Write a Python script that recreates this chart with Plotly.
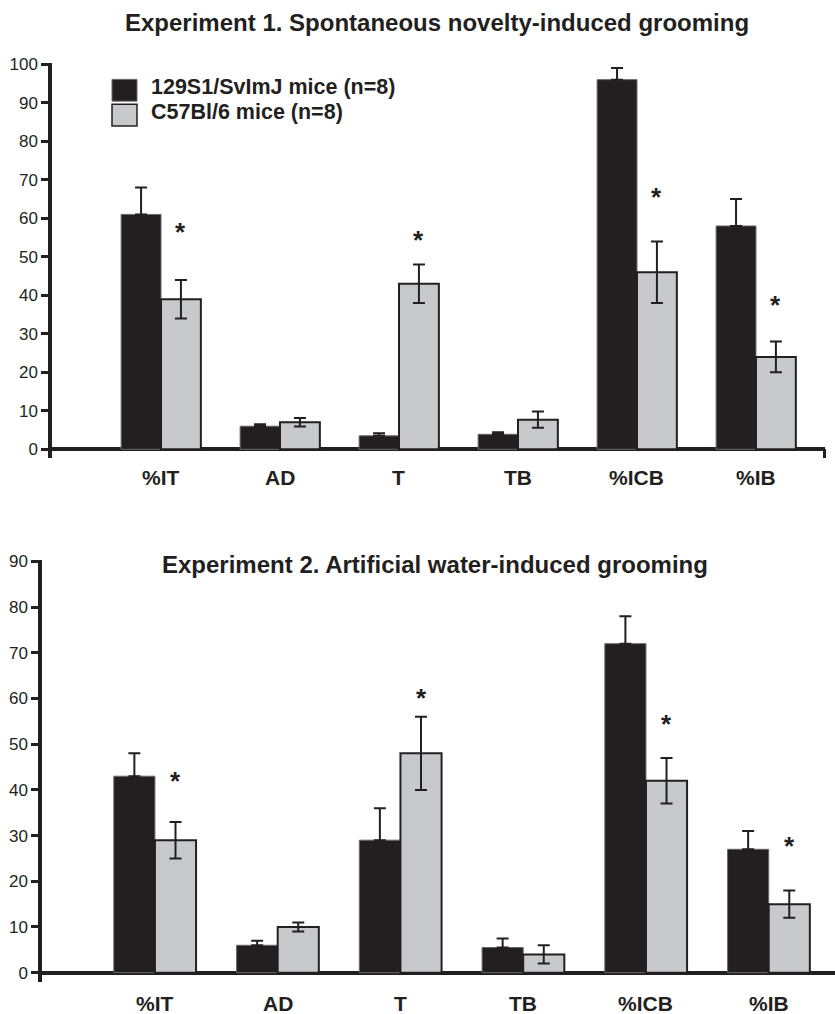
import plotly.graph_objects as go

# ---------------- data ----------------
categories = ["%IT", "AD", "T", "TB", "%ICB", "%IB"]
series_names = ["129S1/SvImJ mice (n=8)", "C57Bl/6 mice (n=8)"]
titles = ["Experiment 1. Spontaneous novelty-induced grooming",
          "Experiment 2. Artificial water-induced grooming"]

exp1_129 = [61, 6, 3.5, 3.9, 96, 58]
exp1_129_err = [7, 0.5, 0.7, 0.5, 3, 7]
exp1_c57 = [39, 7, 43, 7.7, 46, 24]
exp1_c57_err = [5, 1.1, 5, 2.1, 8, 4]
exp1_star_idx = [0, 2, 4, 5]
exp1_star_y = [57, 55, 66, 38]

exp2_129 = [43, 6, 29, 5.5, 72, 27]
exp2_129_err = [5, 1, 7, 2, 6, 4]
exp2_c57 = [29, 10, 48, 4, 42, 15]
exp2_c57_err = [4, 1, 8, 2, 5, 3]
exp2_star_idx = [0, 2, 4, 5]
exp2_star_y = [41.5, 59.7, 54, 27.2]

y1_ticks = list(range(0, 101, 10))
y2_ticks = list(range(0, 91, 10))

# ---------------- style ----------------
W, H = 835, 1014
DARK = "#231F20"
GREY = "#C8C9CB"
FONT = "Liberation Sans, Arial, Helvetica, sans-serif"
BARGAP = 0.33
xs = list(range(len(categories)))
grey_off = (1 - BARGAP) / 4  # centre offset of second bar in a group


def px_x(p):
    return p / W


def px_y(p):
    return 1 - p / H


fig = go.Figure()


def add_pair(v1, e1, v2, e2, xa, ya):
    fig.add_trace(go.Bar(
        x=xs, y=v1, name=series_names[0], xaxis=xa, yaxis=ya, showlegend=False,
        marker=dict(color=DARK, line=dict(color="#6a6768", width=1)),
        error_y=dict(type="data", array=e1, arrayminus=[0] * len(e1), symmetric=False,
                     color=DARK, thickness=2, width=6),
    ))
    fig.add_trace(go.Bar(
        x=xs, y=v2, name=series_names[1], xaxis=xa, yaxis=ya, showlegend=False,
        marker=dict(color=GREY, line=dict(color=DARK, width=2)),
        error_y=dict(type="data", array=e2, symmetric=True,
                     color=DARK, thickness=2, width=6),
    ))


add_pair(exp1_129, exp1_129_err, exp1_c57, exp1_c57_err, "x", "y")
add_pair(exp2_129, exp2_129_err, exp2_c57, exp2_c57_err, "x2", "y2")

annotations = []
starfont = dict(family=FONT, size=26, color=DARK, weight="bold")
for idx, sy in zip(exp1_star_idx, exp1_star_y):
    annotations.append(dict(x=idx + grey_off, y=sy, xref="x", yref="y", text="*",
                            showarrow=False, yshift=-2, font=starfont))
for idx, sy in zip(exp2_star_idx, exp2_star_y):
    annotations.append(dict(x=idx + grey_off, y=sy, xref="x2", yref="y2", text="*",
                            showarrow=False, yshift=2, font=starfont))

# category labels
catfont = dict(family=FONT, size=21, color=DARK, weight="bold")
for i, c in enumerate(categories):
    annotations.append(dict(x=i, y=px_y(474), xref="x", yref="paper", text=c,
                            showarrow=False, xanchor="center", yanchor="middle", font=catfont))
    annotations.append(dict(x=i, y=px_y(1004), xref="x2", yref="paper", text=c,
                            showarrow=False, xanchor="center", yanchor="middle", font=catfont))

# titles
titlefont = dict(family=FONT, size=24, color=DARK, weight="bold")
annotations.append(dict(x=px_x(437), y=px_y(15), xref="paper", yref="paper", text=titles[0],
                        showarrow=False, xanchor="center", yanchor="middle", font=titlefont))
annotations.append(dict(x=px_x(435), y=px_y(561), xref="paper", yref="paper", text=titles[1],
                        showarrow=False, xanchor="center", yanchor="middle", font=titlefont))
# legend texts
legfont = dict(family=FONT, size=21.5, color=DARK, weight="bold")
annotations.append(dict(x=px_x(149), y=px_y(80), xref="paper", yref="paper", text=series_names[0],
                        showarrow=False, xanchor="left", yanchor="middle", font=legfont))
annotations.append(dict(x=px_x(149), y=px_y(105), xref="paper", yref="paper", text=series_names[1],
                        showarrow=False, xanchor="left", yanchor="middle", font=legfont))

shapes = [
    dict(type="rect", xref="paper", yref="paper", x0=px_x(112), x1=px_x(137),
         y0=px_y(94), y1=px_y(72), fillcolor=DARK, line=dict(color="#6a6768", width=1)),
    dict(type="rect", xref="paper", yref="paper", x0=px_x(112), x1=px_x(137),
         y0=px_y(119), y1=px_y(97), fillcolor=GREY, line=dict(color=DARK, width=1.5)),
]

tickfont = dict(family=FONT, size=17, color=DARK)


def xaxis(domain, rng, end_tick):
    d = dict(domain=domain, range=rng, tickmode="array", tickvals=xs,
             ticks="", showticklabels=False, showline=False, showgrid=False,
             zeroline=False, fixedrange=True)
    if end_tick is not None:
        d["minor"] = dict(tickmode="array", tickvals=[end_tick], ticks="inside", ticklen=9,
                          tickwidth=3, tickcolor=DARK, showgrid=False)
    return d


def yaxis(domain, rng, ticks, anchor):
    return dict(domain=domain, range=rng, anchor=anchor, tickmode="array", tickvals=ticks,
                ticks="outside", ticklen=7, tickwidth=3, tickcolor=DARK,
                showline=True, linewidth=3.5, linecolor=DARK,
                zeroline=True, zerolinewidth=3.5, zerolinecolor=DARK,
                showgrid=False, tickfont=tickfont, fixedrange=True)


fig.update_layout(
    width=W, height=H,
    margin=dict(l=0, r=0, t=0, b=0),
    paper_bgcolor="white", plot_bgcolor="white",
    barmode="group", bargap=BARGAP, bargroupgap=0,
    showlegend=False,
    xaxis=xaxis([px_x(52), px_x(825)], [-0.916, 5.58], 5.575) | dict(anchor="y"),
    yaxis=yaxis([px_y(454.2), px_y(55.2)], [-2.3, 100.4], y1_ticks, "x"),
    xaxis2=xaxis([px_x(42), 1.0], [-0.92, 5.54], None) | dict(anchor="y2"),
    yaxis2=yaxis([px_y(983), px_y(557)], [-2.1, 90.3], y2_ticks, "x2"),
    annotations=annotations,
    shapes=shapes,
)

fig.write_html("out.html", config={"displayModeBar": False},
               post_script="document.body.style.margin='0';")
